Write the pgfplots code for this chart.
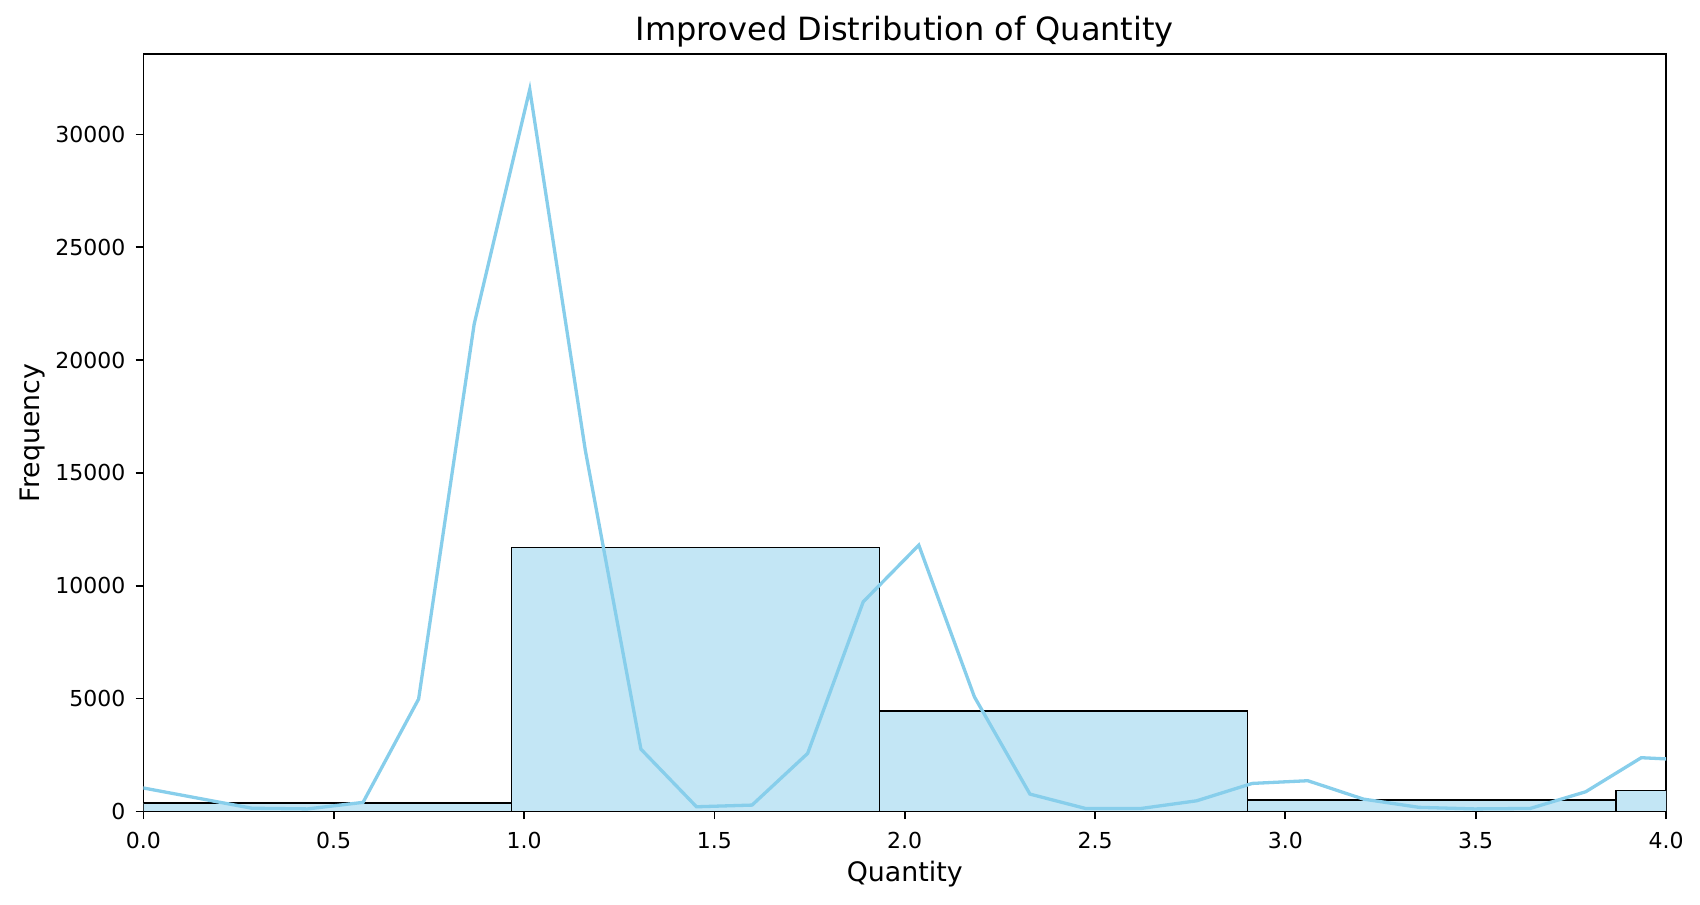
\documentclass[border=0pt]{standalone}
\usepackage{fontspec}
\setmainfont{DejaVu Sans}
\usepackage{pgfplots}
\pgfplotsset{compat=1.18}
\definecolor{skyblue}{HTML}{87CEEB}
\definecolor{barfill}{HTML}{C3E6F5}
\begin{document}
\begin{tikzpicture}
\path[use as bounding box] (0,0) rectangle (850pt,452pt);
\begin{axis}[
  at={(71.7pt,46.3pt)}, anchor=south west,
  scale only axis, width=761.3pt, height=378.6pt,
  xmin=0, xmax=4, ymin=0, ymax=33560,
  axis line style={line width=0.88pt, black},
  every tick/.style={line width=0.88pt, black},
  tick align=outside, major tick length=3.85pt,
  tick pos=left,
  xtick={0,0.5,1,1.5,2,2.5,3,3.5,4},
  ytick={0,5000,10000,15000,20000,25000,30000},
  scaled ticks=false,
  /pgf/number format/assume math mode=true,
  xticklabel style={/pgf/number format/fixed, /pgf/number format/fixed zerofill, /pgf/number format/precision=1},
  yticklabel style={/pgf/number format/fixed, /pgf/number format/1000 sep={}},
  ticklabel style={font=\fontsize{11pt}{13pt}\selectfont, inner sep=0pt},
  xticklabel style={anchor=base, yshift=-14.8pt},
  yticklabel style={anchor=east, xshift=-5pt},
  title={Improved Distribution of Quantity},
  title style={font=\fontsize{16pt}{19pt}\selectfont, at={(axis description cs:0.5,1)}, anchor=base, yshift=0.8pt, inner sep=0pt},
  xlabel={Quantity},
  xlabel style={font=\fontsize{13.4pt}{16pt}\selectfont, at={(axis description cs:0.5,-0.0927)}, anchor=base, inner sep=0pt},
  ylabel={Frequency},
  ylabel style={font=\fontsize{13.4pt}{16pt}\selectfont, at={(axis description cs:-0.0681,0.5)}, anchor=base, inner sep=0pt},
]
\addplot[ybar interval, fill=barfill, draw=black, line width=0.8pt] coordinates {
  (0,370) (0.967,11700) (1.934,4440) (2.901,500) (3.868,930) (4.835,930)
};
\addplot[skyblue, line width=1.65pt, mark=none] coordinates {
  (-0.007,1060) (0.139,600) (0.285,140) (0.431,110) (0.577,400)
  (0.723,4980) (0.869,21600) (1.015,32000) (1.161,16000) (1.307,2760)
  (1.453,205) (1.599,280) (1.745,2570) (1.891,9290) (2.037,11800)
  (2.183,5080) (2.329,767) (2.475,130) (2.621,130) (2.767,470)
  (2.913,1240) (3.059,1360) (3.205,545) (3.351,180) (3.497,110)
  (3.643,130) (3.789,870) (3.935,2380) (4.081,2260)
};
\end{axis}
\end{tikzpicture}
\end{document}
